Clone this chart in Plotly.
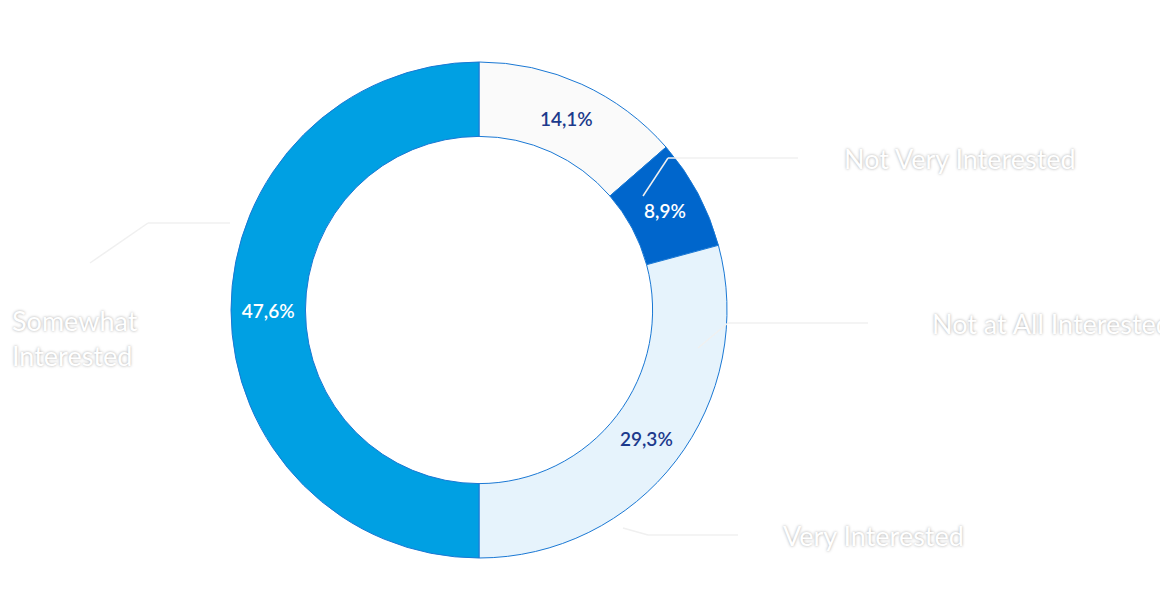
import plotly.graph_objects as go

categories = ["Not at All Interested", "Not Very Interested", "Very Interested", "Somewhat Interested"]
# arc shares as drawn in the picture (the printed labels differ slightly)
values = [13.6, 7.2, 29.2, 50.0]
text_labels = ["14,1%", "8,9%", "29,3%", "47,6%"]
colors = ["#fafafa", "#0066cc", "#e6f3fc", "#00a0e3"]
text_colors = ["#1c3a8c", "#ffffff", "#1c3a8c", "#ffffff"]

W, H = 1168, 608
cx, cy, R = 471, 302, 248

fig = go.Figure(go.Pie(
    labels=categories, values=values, text=text_labels, textinfo="text",
    hole=0.70, sort=False, direction="clockwise", rotation=0,
    domain=dict(x=[(cx - R) / W, (cx + R) / W], y=[1 - (cy + R) / H, 1 - (cy - R) / H]),
    marker=dict(colors=colors, line=dict(color="#1a78d4", width=1)),
    textfont=dict(family="Lato", size=19, color=text_colors, weight=600),
    textposition="inside", insidetextorientation="horizontal", showlegend=False,
))

shadow = "0px 0px 3px rgba(0,0,0,0.35)"
ann = [
    ("Not Very Interested", 1070, 150, "right"),
    ("Not at All Interested", 1165, 315, "right"),
    ("Very Interested", 958, 527, "right"),
    ("Somewhat<br>Interested", 2, 330, "left"),
]
for t, x, y, anc in ann:
    fig.add_annotation(text=t, x=x / W, y=1 - y / H, xref="paper", yref="paper",
                       xanchor=anc, yanchor="middle", showarrow=False,
                       font=dict(family="Lato", size=27, color="#ffffff", shadow=shadow),
                       align="left")
lines = [
    [(635, 188), (660, 150), (790, 150)],
    [(690, 340), (720, 315), (860, 315)],
    [(615, 520), (640, 527), (730, 527)],
    [(82, 255), (140, 215), (222, 215)],
]
for pts in lines:
    for (x0, y0), (x1, y1) in zip(pts[:-1], pts[1:]):
        fig.add_shape(type="line", xref="paper", yref="paper",
                      x0=x0 / W, y0=1 - y0 / H, x1=x1 / W, y1=1 - y1 / H,
                      line=dict(color="#f0f0f0", width=1.5))

fig.update_layout(width=W, height=H, paper_bgcolor="white", plot_bgcolor="white",
                  margin=dict(l=0, r=0, t=0, b=0))
fig.write_html("out.html")
